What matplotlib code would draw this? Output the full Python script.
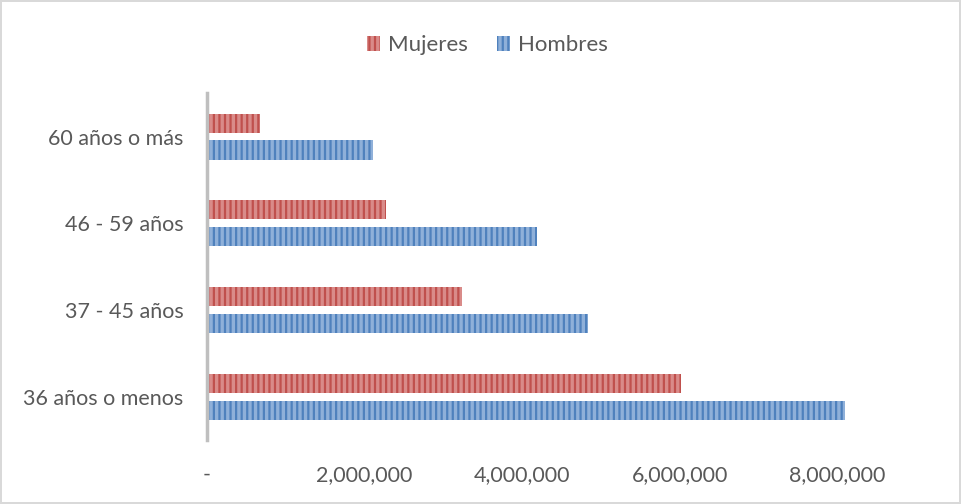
import numpy as np
import matplotlib.pyplot as plt
from matplotlib.ticker import FuncFormatter

plt.rcParams['font.family'] = ['Lato', 'DejaVu Sans']
plt.rcParams['hatch.linewidth'] = 1.6

# Population by age group
groups = ["36 años o menos", "37 - 45 años", "46 - 59 años", "60 años o más"]
mujeres = [6020000, 3240000, 2270000, 670000]
hombres = [8100000, 4840000, 4190000, 2110000]

red = "#C0504D"
blue = "#4F81BD"
text_grey = "#595959"

fig = plt.figure(figsize=(9.61, 5.04), dpi=100)
fig.patch.set_edgecolor("#d9d9d9")
fig.patch.set_linewidth(1.5)
ax = fig.add_axes([0.2154, 0.127, 0.738, 0.688])

y = np.arange(len(groups))
h = 0.22
off = 0.155
ax.barh(y + off, mujeres, height=h, color="#d98b89", edgecolor=red,
        hatch="|||", linewidth=0, label="Mujeres")
ax.barh(y - off, hombres, height=h, color="#8fb0d9", edgecolor=blue,
        hatch="|||", linewidth=0, label="Hombres")

ax.set_xlim(0, 9000000)
ax.set_ylim(-0.5, len(groups) - 0.5)
ax.set_yticks(y)
ax.set_yticklabels(groups)
ax.set_xticks([0, 2000000, 4000000, 6000000, 8000000])
ax.xaxis.set_major_formatter(FuncFormatter(lambda v, p: "-" if v == 0 else f"{v:,.0f}"))
ax.tick_params(length=0, labelsize=15.5, colors=text_grey)
ax.tick_params(axis="x", pad=18)
ax.tick_params(axis="y", pad=17)

for s in ["top", "right", "bottom"]:
    ax.spines[s].set_visible(False)
ax.spines["left"].set_color("#bfbfbf")
ax.spines["left"].set_linewidth(2.5)

fig.legend(loc="upper center", bbox_to_anchor=(0.507, 0.97), ncol=2, frameon=False,
           fontsize=16, labelcolor=text_grey, handlelength=0.6, handleheight=0.7,
           handletextpad=0.35, columnspacing=1.3)

fig.savefig("out.png", dpi=100)
